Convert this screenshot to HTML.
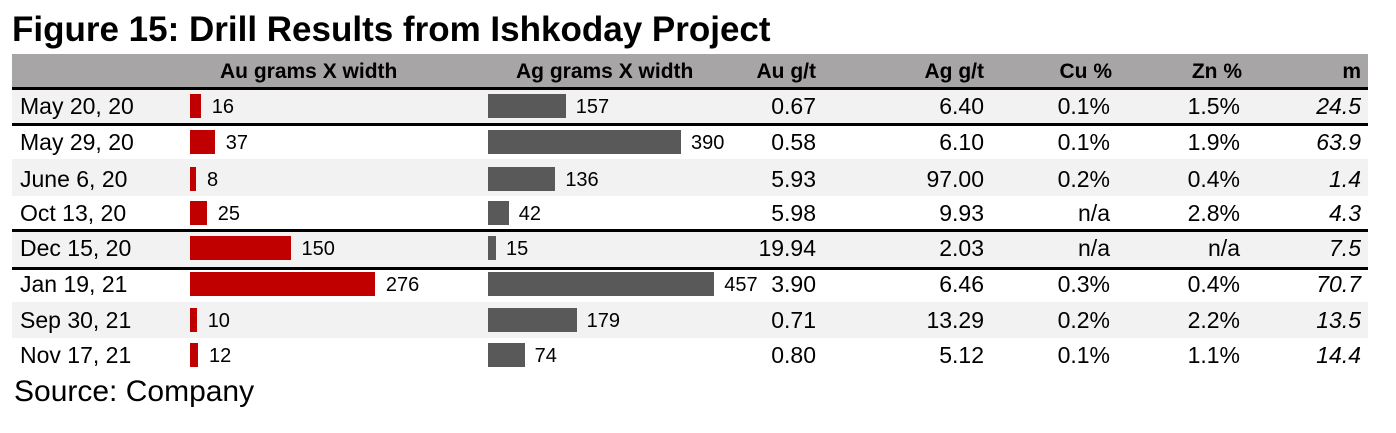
<!DOCTYPE html>
<html><head><style>
body{margin:0;width:1396px;height:433px;background:#fff;font-family:"Liberation Sans",Arial,sans-serif;position:relative;overflow:hidden}
.a{position:absolute;white-space:nowrap}
.t{left:12px;top:10px;font-size:35px;font-weight:bold;color:#000;line-height:40px}
.hd{left:12px;top:54px;width:1356px;height:33px;background:#a7a5a5}
.h{top:56px;font-size:21px;font-weight:bold;line-height:32px}
.r{position:absolute;left:12px;width:1356px}
.g{background:#f2f2f2}
.ln{position:absolute;left:12px;width:1356px;height:3px;background:#000}
.v{font-size:23px;color:#000;line-height:30px}
.bau{position:absolute;background:#c00000;height:24px}
.bag{position:absolute;background:#595959;height:24px}
</style></head><body>
<div class="a t">Figure 15: Drill Results from Ishkoday Project</div>
<div class="a hd"></div>
<div class="a h" style="left:220px">Au grams X width</div>
<div class="a h" style="left:516px">Ag grams X width</div>
<div class="a h" style="right:580px">Au g/t</div>
<div class="a h" style="right:412px">Ag g/t</div>
<div class="a h" style="right:284px">Cu %</div>
<div class="a h" style="right:154px">Zn %</div>
<div class="a h" style="right:35px">m</div>
<div class="ln" style="top:87px"></div>
<div class="r g" style="top:90px;height:33px"></div>
<div class="ln" style="top:123px"></div>
<div class="r g" style="top:159px;height:37px"></div>
<div class="ln" style="top:229px"></div>
<div class="r g" style="top:232px;height:35px"></div>
<div class="ln" style="top:267px"></div>
<div class="r g" style="top:302px;height:36px"></div>

<div id="rows"></div>
<script>
var d=[["May 20, 20",16,157,"0.67","6.40","0.1%","1.5%","24.5",106],
["May 29, 20",37,390,"0.58","6.10","0.1%","1.9%","63.9",142],
["June 6, 20",8,136,"5.93","97.00","0.2%","0.4%","1.4",179],
["Oct 13, 20",25,42,"5.98","9.93","n/a","2.8%","4.3",213],
["Dec 15, 20",150,15,"19.94","2.03","n/a","n/a","7.5",248],
["Jan 19, 21",276,457,"3.90","6.46","0.3%","0.4%","70.7",284],
["Sep 30, 21",10,179,"0.71","13.29","0.2%","2.2%","13.5",320],
["Nov 17, 21",12,74,"0.80","5.12","0.1%","1.1%","14.4",355]];
var h="";
d.forEach(function(r){var c=r[8],ty=c-15;
var aw=Math.max(6,r[1]*0.67),gw=Math.max(8,r[2]*0.495);
h+='<div class="a v" style="left:20px;top:'+ty+'px">'+r[0]+'</div>';
h+='<div class="bau" style="left:190px;top:'+(c-12)+'px;width:'+aw+'px"></div>';
h+='<div class="a v" style="left:'+(190+aw+11)+'px;top:'+(ty+1)+'px;font-size:20px">'+r[1]+'</div>';
h+='<div class="bag" style="left:488px;top:'+(c-12)+'px;width:'+gw+'px"></div>';
h+='<div class="a v" style="left:'+(488+gw+10)+'px;top:'+(ty+1)+'px;font-size:20px">'+r[2]+'</div>';
var rs=[580,412,286,156,35];
for(var i=0;i<5;i++)h+='<div class="a v" style="right:'+rs[i]+'px;top:'+ty+'px;'+(i==4?'font-style:italic':'')+'">'+r[3+i]+'</div>';
});
document.getElementById("rows").innerHTML=h;
</script>
<div class="a" style="left:14px;top:374px;font-size:30px;line-height:36px">Source: Company</div>
</body></html>
